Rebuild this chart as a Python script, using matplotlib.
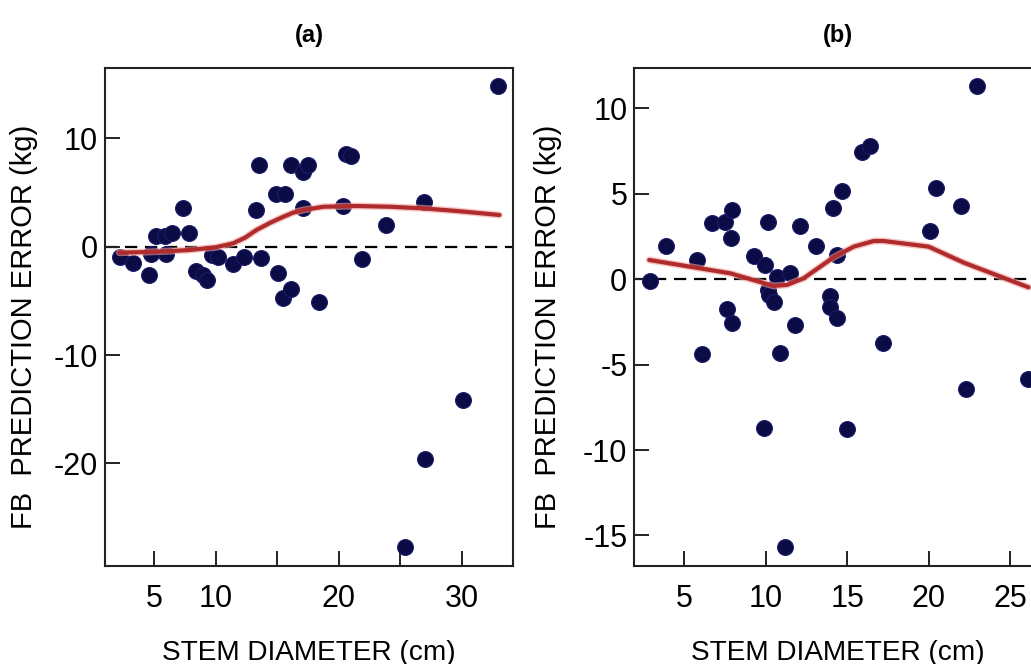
import numpy as np
import matplotlib
matplotlib.use("Agg")
import matplotlib.pyplot as plt

plt.rcParams['font.family'] = ['Liberation Sans', 'DejaVu Sans']

# panel (a): diameter (cm) vs prediction error (kg)
diam_a = [2.2, 3.24, 4.56, 4.7, 5.1, 5.87, 5.95, 6.41, 7.3, 7.82, 8.39, 8.93,
          9.26, 9.66, 10.2, 11.43, 12.29, 13.3, 13.49, 13.65, 14.87, 15.63,
          15.08, 15.5, 16.14, 16.14, 17.12, 17.53, 17.12, 18.37, 20.32, 20.57,
          21.0, 21.92, 23.82, 26.94, 32.99, 30.14, 27.0, 25.37]
err_a = [-0.98, -1.53, -2.61, -0.67, 0.95, 0.95, -0.67, 1.24, 3.54, 1.24, -2.2,
         -2.61, -3.07, -0.77, -0.98, -1.6, -0.98, 3.39, 7.54, -1.07, 4.88, 4.88,
         -2.46, -4.77, -3.87, 7.54, 6.93, 7.5, 3.54, -5.1, 3.79, 8.53, 8.4,
         -1.14, 2.0, 4.16, 14.84, -14.16, -19.63, -27.76]

# smoothed trend for (a)
trend_xa = [2.15, 4.0, 6.0, 7.9, 10.0, 11.4, 12.4, 13.3, 14.4, 15.5, 16.3,
            17.1, 18.75, 21.5, 24.2, 26.9, 29.6, 33.07]
trend_ya = [-0.55, -0.5, -0.42, -0.3, -0.05, 0.31, 0.85, 1.54, 2.2, 2.77,
            3.15, 3.39, 3.69, 3.76, 3.69, 3.54, 3.3, 2.93]

# panel (b)
diam_b = [2.89, 3.86, 5.77, 6.69, 7.51, 7.96, 7.88, 7.65, 7.96, 6.09, 9.25,
          9.97, 10.17, 10.17, 10.2, 10.52, 10.69, 11.5, 12.08, 11.82, 10.85,
          13.1, 14.13, 14.69, 14.38, 13.97, 13.97, 14.38, 15.92, 16.39, 17.21,
          20.08, 20.43, 21.97, 23.0, 9.87, 15.0, 11.16, 22.32, 26.07]
err_b = [-0.08, 1.97, 1.13, 3.31, 3.37, 4.06, 2.44, -1.76, -2.58, -4.37, 1.36,
         0.84, 3.35, -0.63, -0.92, -1.31, 0.15, 0.39, 3.12, -2.7, -4.33, 1.92,
         4.16, 5.19, 1.42, -0.98, -1.6, -2.26, 7.44, 7.82, -3.75, 2.85, 5.35,
         4.29, 11.32, -8.72, -8.76, -15.69, -6.44, -5.86]

trend_xb = [2.85, 7.82, 10.48, 11.3, 12.33, 14.17, 15.4, 16.63, 17.25, 20.0,
            22.17, 26.13]
trend_yb = [1.13, 0.35, -0.39, -0.33, 0.06, 1.29, 1.91, 2.24, 2.24, 1.91,
            0.97, -0.47]

fig = plt.figure(figsize=(10.31, 6.64), dpi=100)
ax_a = fig.add_axes([0.1018, 0.148, 0.3961, 0.7491])
ax_b = fig.add_axes([0.6152, 0.148, 0.3961, 0.7491])

panels = [
    (ax_a, diam_a, err_a, trend_xa, trend_ya, (0.98, 34.2), (-29.45, 16.47),
     [5, 10, 15, 20, 25, 30], ['5', '10', '', '20', '', '30'], [-20, -10, 0, 10]),
    (ax_b, diam_b, err_b, trend_xb, trend_yb, (1.93, 27.0), (-16.77, 12.35),
     [5, 10, 15, 20, 25], ['5', '10', '15', '20', '25'], [-15, -10, -5, 0, 5, 10]),
]

for ax, xs, ys, tx, ty, xl, yl, xt, xtl, yt in panels:
    ax.axhline(0, color='black', lw=1.6, dashes=(5.5, 3.5), zorder=1)
    ax.scatter(xs, ys, s=130, color='#0b0b45', edgecolors='#1c1c6a',
               linewidths=0.8, zorder=2)
    ax.plot(tx, ty, color='#f2a0a0', lw=5.0, alpha=0.6, zorder=3,
            solid_capstyle='round')
    ax.plot(tx, ty, color='#b02c2c', lw=3.0, zorder=4, solid_capstyle='round')
    ax.set_xlim(*xl)
    ax.set_ylim(*yl)
    ax.set_xticks(xt)
    ax.set_xticklabels(xtl)
    ax.set_yticks(yt)
    ax.set_yticklabels([str(v) for v in yt])
    ax.tick_params(axis='both', direction='in', length=11, width=1.4,
                   labelsize=22, color='#222222')
    ax.tick_params(axis='x', pad=13)
    ax.tick_params(axis='y', pad=5)
    for sp in ax.spines.values():
        sp.set_linewidth(1.5)
        sp.set_color('#222222')

fig.text(0.2997, 0.947, '(a)', ha='center', va='center', fontsize=17,
         fontweight='bold')
fig.text(0.8128, 0.947, '(b)', ha='center', va='center', fontsize=17,
         fontweight='bold')

for cx in (0.2997, 0.8128):
    fig.text(cx, 0.017, 'STEM DIAMETER (cm)', ha='center', va='center',
             fontsize=20.2)
for cx in (0.0233, 0.5315):
    fig.text(cx, 0.508, 'FB  PREDICTION ERROR (kg)', ha='center',
             va='center', rotation=90, fontsize=21)

fig.savefig('out.png', dpi=100)
